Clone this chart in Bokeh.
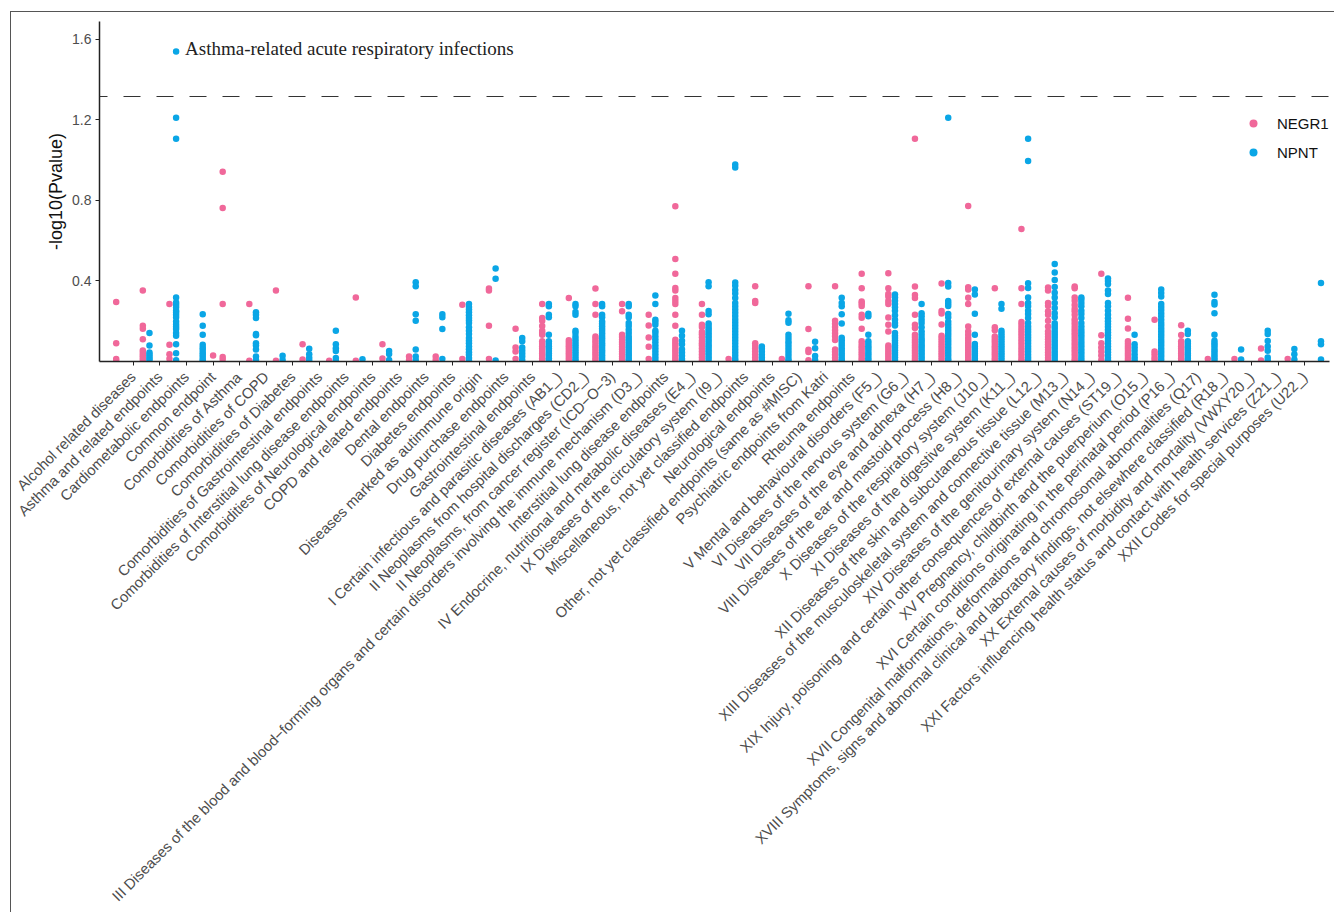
import numpy as np
from bokeh.plotting import figure
from bokeh.models import ColumnDataSource, FixedTicker, Span, Range1d
from bokeh.embed import file_html
from bokeh.resources import INLINE
from bokeh.core.properties import value

# Category labels shown on the x axis (ticks 1..45)
categories = [
    "Alcohol related diseases",
    "Asthma and related endpoints",
    "Cardiometabolic endpoints",
    "Common endpoint",
    "Comorbidities of Asthma",
    "Comorbidities of COPD",
    "Comorbidities of Diabetes",
    "Comorbidities of Gastrointestinal endpoints",
    "Comorbidities of Interstitial lung disease endpoints",
    "Comorbidities of Neurological endpoints",
    "COPD and related endpoints",
    "Dental endpoints",
    "Diabetes endpoints",
    "Diseases marked as autimmune origin",
    "Drug purchase endpoints",
    "Gastrointestinal endpoints",
    "I Certain infectious and parasitic diseases (AB1_)",
    "II Neoplasms from hospital discharges (CD2_)",
    "II Neoplasms, from cancer register (ICD\u2212O\u22123)",
    "III Diseases of the blood and blood\u2212forming organs and certain disorders involving the immune mechanism (D3_)",
    "Interstitial lung disease endpoints",
    "IV Endocrine, nutritional and metabolic diseases (E4_)",
    "IX Diseases of the circulatory system (I9_)",
    "Miscellaneous, not yet classified endpoints",
    "Neurological endpoints",
    "Other, not yet classified endpoints (same as #MISC)",
    "Psychiatric endpoints from Katri",
    "Rheuma endpoints",
    "V Mental and behavioural disorders (F5_)",
    "VI Diseases of the nervous system (G6_)",
    "VII Diseases of the eye and adnexa (H7_)",
    "VIII Diseases of the ear and mastoid process (H8_)",
    "X Diseases of the respiratory system (J10_)",
    "XI Diseases of the digestive system (K11_)",
    "XII Diseases of the skin and subcutaneous tissue (L12_)",
    "XIII Diseases of the musculoskeletal system and connective tissue (M13_)",
    "XIV Diseases of the genitourinary system (N14_)",
    "XIX Injury, poisoning and certain other consequences of external causes (ST19_)",
    "XV Pregnancy, childbirth and the puerperium (O15_)",
    "XVI Certain conditions originating in the perinatal period (P16_)",
    "XVII Congenital malformations, deformations and chromosomal abnormalities (Q17)",
    "XVIII Symptoms, signs and abnormal clinical and laboratory findings, not elsewhere classified (R18_)",
    "XX External causes of morbidity and mortality (VWXY20_)",
    "XXI Factors influencing health status and contact with health services (Z21_)",
    "XXII Codes for special purposes (U22_)",
]

# -log10(P) per point group (46 point groups, placed between the ticks)
negr1 = [
    [0.295, 0.091, 0.013, 0.004],
    [0.352, 0.178, 0.163, 0.111, 0.054, 0.042, 0.03, 0.018, 0.008],
    [0.285, 0.083, 0.036, 0.013],
    [],
    [0.941, 0.762, 0.285, 0.022, 0.01],
    [0.285, 0.004],
    [0.352, 0.004],
    [0.086, 0.01],
    [0.004],
    [0.318, 0.004],
    [0.085, 0.015],
    [0.025, 0.007],
    [0.025, 0.008],
    [0.282, 0.012],
    [0.362, 0.352, 0.178, 0.013],
    [0.162, 0.07, 0.05, 0.013],
    [0.285, 0.216, 0.202, 0.176, 0.153, 0.141, 0.133, 0.1, 0.088, 0.076, 0.064, 0.052, 0.04, 0.028, 0.016, 0.005],
    [0.315, 0.105, 0.093, 0.081, 0.069, 0.057, 0.045, 0.033, 0.021, 0.009],
    [0.362, 0.285, 0.232, 0.124, 0.113, 0.1, 0.088, 0.076, 0.064, 0.052, 0.04, 0.028, 0.016, 0.005],
    [0.285, 0.249, 0.133, 0.121, 0.109, 0.097, 0.085, 0.073, 0.061, 0.049, 0.037, 0.025, 0.013, 0.004],
    [0.232, 0.179, 0.119, 0.073, 0.013],
    [0.77, 0.509, 0.435, 0.365, 0.352, 0.315, 0.3, 0.285, 0.232, 0.178, 0.108, 0.096, 0.084, 0.072, 0.06, 0.048, 0.036, 0.024, 0.012, 0.004],
    [0.285, 0.232, 0.182, 0.171, 0.146, 0.135, 0.12, 0.103, 0.09, 0.08, 0.065, 0.05, 0.035, 0.02, 0.005],
    [0.012],
    [0.373, 0.3, 0.29, 0.09, 0.078, 0.065, 0.05, 0.035, 0.02, 0.006],
    [0.012],
    [0.373, 0.161, 0.058, 0.047, 0.006],
    [0.373, 0.202, 0.187, 0.171, 0.155, 0.14, 0.125, 0.107, 0.06, 0.048, 0.034, 0.018, 0.005],
    [0.435, 0.364, 0.298, 0.288, 0.275, 0.232, 0.217, 0.163, 0.1, 0.088, 0.076, 0.064, 0.052, 0.04, 0.028, 0.016, 0.005],
    [0.438, 0.363, 0.335, 0.322, 0.3, 0.285, 0.218, 0.182, 0.149, 0.08, 0.068, 0.056, 0.044, 0.032, 0.02, 0.008],
    [1.105, 0.372, 0.33, 0.315, 0.232, 0.182, 0.166, 0.133, 0.12, 0.107, 0.094, 0.081, 0.068, 0.055, 0.042, 0.029, 0.016, 0.005],
    [0.387, 0.25, 0.238, 0.184, 0.128, 0.116, 0.104, 0.092, 0.08, 0.068, 0.056, 0.044, 0.032, 0.02, 0.008],
    [0.771, 0.368, 0.357, 0.316, 0.285, 0.174, 0.149, 0.133, 0.116, 0.104, 0.092, 0.08, 0.068, 0.056, 0.044, 0.032, 0.02, 0.008],
    [0.363, 0.17, 0.155, 0.124, 0.112, 0.1, 0.088, 0.076, 0.064, 0.052, 0.04, 0.028, 0.016, 0.005],
    [0.657, 0.363, 0.285, 0.196, 0.182, 0.168, 0.154, 0.14, 0.126, 0.112, 0.098, 0.084, 0.07, 0.056, 0.042, 0.028, 0.014, 0.004],
    [0.367, 0.352, 0.29, 0.277, 0.249, 0.232, 0.202, 0.174, 0.149, 0.136, 0.123, 0.11, 0.097, 0.084, 0.071, 0.058, 0.045, 0.032, 0.019, 0.006],
    [0.372, 0.363, 0.318, 0.302, 0.28, 0.262, 0.249, 0.232, 0.21, 0.196, 0.182, 0.168, 0.154, 0.14, 0.126, 0.112, 0.098, 0.084, 0.07, 0.056, 0.042, 0.028, 0.014, 0.004],
    [0.436, 0.13, 0.09, 0.07, 0.05, 0.03, 0.008],
    [0.316, 0.212, 0.164, 0.1, 0.088, 0.076, 0.064, 0.052, 0.04, 0.028, 0.016, 0.005],
    [0.207, 0.05, 0.036, 0.02, 0.007],
    [0.18, 0.131, 0.1, 0.088, 0.076, 0.064, 0.052, 0.04, 0.028, 0.016, 0.005],
    [0.012],
    [0.012],
    [0.065, 0.005],
    [0.012],
    [],
]

npnt = [
    [],
    [0.141, 0.079, 0.045, 0.035, 0.025, 0.015, 0.006],
    [1.538, 1.21, 1.105, 0.318, 0.293, 0.282, 0.269, 0.252, 0.244, 0.232, 0.219, 0.199, 0.185, 0.172, 0.161, 0.141, 0.128, 0.086, 0.041, 0.006],
    [0.235, 0.177, 0.133, 0.083, 0.07, 0.058, 0.045, 0.033, 0.022, 0.01, 0.003],
    [],
    [0.244, 0.232, 0.216, 0.137, 0.13, 0.09, 0.08, 0.06, 0.025, 0.008],
    [0.028, 0.008],
    [0.063, 0.036, 0.018, 0.005],
    [0.152, 0.086, 0.066, 0.052, 0.017, 0.004],
    [0.011],
    [0.052, 0.037, 0.008],
    [0.393, 0.373, 0.235, 0.202, 0.06, 0.025, 0.007],
    [0.235, 0.219, 0.161, 0.012],
    [0.285, 0.27, 0.258, 0.244, 0.23, 0.216, 0.203, 0.191, 0.17, 0.153, 0.136, 0.116, 0.103, 0.091, 0.075, 0.061, 0.046, 0.033, 0.017, 0.005],
    [0.461, 0.411, 0.005],
    [0.116, 0.1, 0.07, 0.055, 0.04, 0.025, 0.008],
    [0.285, 0.274, 0.232, 0.219, 0.133, 0.1, 0.088, 0.076, 0.064, 0.052, 0.04, 0.028, 0.016, 0.005],
    [0.285, 0.274, 0.245, 0.232, 0.153, 0.141, 0.124, 0.11, 0.098, 0.086, 0.074, 0.062, 0.05, 0.038, 0.026, 0.014, 0.004],
    [0.285, 0.274, 0.232, 0.219, 0.199, 0.187, 0.175, 0.163, 0.151, 0.139, 0.127, 0.115, 0.103, 0.091, 0.079, 0.067, 0.055, 0.043, 0.031, 0.019, 0.007],
    [0.285, 0.274, 0.232, 0.219, 0.191, 0.176, 0.158, 0.141, 0.124, 0.112, 0.1, 0.088, 0.076, 0.064, 0.052, 0.04, 0.028, 0.016, 0.005],
    [0.327, 0.285, 0.207, 0.196, 0.182, 0.153, 0.141, 0.125, 0.11, 0.095, 0.08, 0.065, 0.05, 0.035, 0.02, 0.006],
    [0.153, 0.128, 0.103, 0.086, 0.061, 0.045, 0.029, 0.013, 0.004],
    [0.393, 0.373, 0.25, 0.235, 0.188, 0.176, 0.164, 0.152, 0.14, 0.128, 0.116, 0.104, 0.092, 0.08, 0.068, 0.056, 0.044, 0.032, 0.02, 0.008],
    [0.978, 0.962, 0.392, 0.376, 0.355, 0.337, 0.315, 0.29, 0.274, 0.258, 0.242, 0.226, 0.21, 0.195, 0.18, 0.165, 0.15, 0.135, 0.12, 0.105, 0.09, 0.075, 0.06, 0.045, 0.03, 0.015, 0.004],
    [0.075, 0.063, 0.05, 0.033, 0.02, 0.006],
    [0.237, 0.205, 0.192, 0.133, 0.116, 0.1, 0.088, 0.073, 0.058, 0.043, 0.028, 0.013, 0.004],
    [0.098, 0.066, 0.027, 0.007],
    [0.316, 0.29, 0.274, 0.234, 0.189, 0.118, 0.105, 0.092, 0.079, 0.066, 0.053, 0.04, 0.027, 0.014, 0.004],
    [0.237, 0.224, 0.133, 0.1, 0.088, 0.076, 0.064, 0.052, 0.04, 0.028, 0.016, 0.005],
    [0.332, 0.318, 0.302, 0.285, 0.269, 0.252, 0.229, 0.207, 0.191, 0.179, 0.141, 0.128, 0.116, 0.104, 0.092, 0.08, 0.068, 0.056, 0.044, 0.032, 0.02, 0.008],
    [0.285, 0.24, 0.224, 0.207, 0.191, 0.17, 0.149, 0.133, 0.116, 0.104, 0.092, 0.08, 0.068, 0.056, 0.044, 0.032, 0.02, 0.008],
    [1.21, 0.39, 0.372, 0.3, 0.288, 0.275, 0.236, 0.219, 0.197, 0.182, 0.168, 0.154, 0.14, 0.126, 0.112, 0.098, 0.084, 0.07, 0.056, 0.042, 0.028, 0.014, 0.004],
    [0.357, 0.332, 0.237, 0.133, 0.087, 0.075, 0.063, 0.051, 0.039, 0.027, 0.015, 0.005],
    [0.285, 0.262, 0.152, 0.14, 0.128, 0.116, 0.104, 0.092, 0.08, 0.068, 0.056, 0.044, 0.032, 0.02, 0.008],
    [1.105, 0.995, 0.388, 0.365, 0.318, 0.29, 0.274, 0.252, 0.236, 0.216, 0.191, 0.174, 0.16, 0.146, 0.132, 0.118, 0.104, 0.09, 0.076, 0.062, 0.048, 0.034, 0.02, 0.007],
    [0.484, 0.442, 0.405, 0.37, 0.341, 0.318, 0.29, 0.265, 0.24, 0.219, 0.19, 0.176, 0.162, 0.148, 0.134, 0.12, 0.106, 0.092, 0.078, 0.064, 0.05, 0.036, 0.022, 0.008],
    [0.318, 0.307, 0.29, 0.274, 0.252, 0.236, 0.216, 0.191, 0.174, 0.158, 0.144, 0.13, 0.116, 0.102, 0.088, 0.074, 0.06, 0.046, 0.032, 0.018, 0.006],
    [0.412, 0.4, 0.385, 0.352, 0.335, 0.29, 0.274, 0.252, 0.232, 0.214, 0.2, 0.186, 0.172, 0.158, 0.144, 0.13, 0.116, 0.102, 0.088, 0.074, 0.06, 0.046, 0.032, 0.018, 0.006],
    [0.133, 0.085, 0.07, 0.053, 0.036, 0.02, 0.006],
    [0.357, 0.34, 0.323, 0.285, 0.27, 0.255, 0.24, 0.224, 0.207, 0.191, 0.177, 0.163, 0.149, 0.135, 0.121, 0.107, 0.093, 0.079, 0.065, 0.051, 0.037, 0.023, 0.009],
    [0.153, 0.136, 0.1, 0.088, 0.076, 0.064, 0.052, 0.04, 0.028, 0.016, 0.005],
    [0.331, 0.295, 0.283, 0.24, 0.133, 0.103, 0.091, 0.079, 0.067, 0.055, 0.043, 0.031, 0.019, 0.007],
    [0.06, 0.01],
    [0.153, 0.136, 0.102, 0.074, 0.053, 0.02, 0.005],
    [0.062, 0.036, 0.01],
    [0.39, 0.1, 0.085, 0.01],
]

# A single NEGR1 result that sits right on a tick
negr1_on_tick_x = [4.0]
negr1_on_tick_y = [0.030]

threshold = 1.315
annotation_label = "Asthma-related acute respiratory infections"

PINK = "#F0689A"
BLUE = "#0AA6E6"
group_center = np.arange(len(negr1)) + 0.485
dodge = 0.125


def flatten(groups, shift):
    xs, ys = [], []
    for c, vals in zip(group_center, groups):
        xs.extend([c + shift] * len(vals))
        ys.extend(vals)
    return xs, ys


nx, ny = flatten(negr1, -dodge)
nx += negr1_on_tick_x
ny += negr1_on_tick_y
bx, by = flatten(npnt, dodge)

src_negr1 = ColumnDataSource(dict(x=nx, y=ny))
src_npnt = ColumnDataSource(dict(x=bx, y=by))

p = figure(
    width=1324, height=901,
    x_range=Range1d(-0.267, 45.93), y_range=Range1d(0, 1.687),
    output_backend="svg", toolbar_location=None,
    min_border_left=88, min_border_right=6, min_border_top=9, min_border_bottom=552,
)
p.styles = {"margin-left": "10px", "margin-top": "11px",
            "border-left": "1px solid #555", "border-top": "1px solid #555"}
p.outline_line_color = None
p.grid.grid_line_color = None
p.background_fill_color = "white"

p.add_layout(Span(location=threshold, dimension="width", line_color="#333333",
                  line_width=1.1, line_dash="17 16", line_dash_offset=9))

r1 = p.scatter("x", "y", source=src_negr1, size=6.5, color=PINK, line_color=None,
               legend_label="NEGR1")
r2 = p.scatter("x", "y", source=src_npnt, size=6.5, color=BLUE, line_color=None,
               legend_label="NPNT")

# label the strongest association
i_max = int(np.argmax(by))
p.text(x=[bx[i_max]], y=[by[i_max]], text=[annotation_label], x_offset=9, y_offset=-3,
       text_font=value("Liberation Serif"), text_font_size="19px",
       text_baseline="middle", text_color="#222222")

# axes
xa = p.xaxis[0]
xa.ticker = FixedTicker(ticks=list(range(1, len(categories) + 1)))
xa.major_label_overrides = {i + 1: lab for i, lab in enumerate(categories)}
xa.major_label_orientation = np.pi / 4
xa.major_label_text_font = "Liberation Sans"
xa.major_label_text_font_size = "14.8px"
xa.major_label_text_color = "#4d4d4d"
xa.major_label_standoff = 9
xa.minor_tick_line_color = None
xa.major_tick_in = 0
xa.major_tick_out = 4
xa.major_tick_line_color = "#222222"
xa.axis_line_color = "#222222"
xa.axis_line_width = 1.5

ya = p.yaxis[0]
ya.ticker = FixedTicker(ticks=[0.4, 0.8, 1.2, 1.6])
ya.major_label_overrides = {0.4: "0.4", 0.8: "0.8", 1.2: "1.2", 1.6: "1.6"}
ya.major_label_text_font = "Liberation Sans"
ya.major_label_text_font_size = "14px"
ya.major_label_text_color = "#4d4d4d"
ya.major_label_standoff = 4
ya.minor_tick_line_color = None
ya.major_tick_in = 0
ya.major_tick_out = 4
ya.major_tick_line_color = "#222222"
ya.axis_line_color = "#222222"
ya.axis_line_width = 1.5
ya.axis_label = "-log10(Pvalue)"
ya.axis_label_text_font = "Liberation Sans"
ya.axis_label_text_font_size = "18px"
ya.axis_label_text_font_style = "normal"
ya.axis_label_text_color = "#111111"
ya.axis_label_standoff = 3

leg = p.legend[0]
leg.location = (1144, 199)
leg.border_line_color = None
leg.background_fill_alpha = 0
leg.padding = 0
leg.margin = 0
leg.spacing = 9
leg.glyph_width = 20
leg.glyph_height = 20
leg.label_height = 20
leg.label_standoff = 14
leg.label_text_font = "Liberation Sans"
leg.label_text_font_size = "15px"
leg.label_text_color = "#111111"

open("out.html", "w").write(file_html(p, INLINE))
